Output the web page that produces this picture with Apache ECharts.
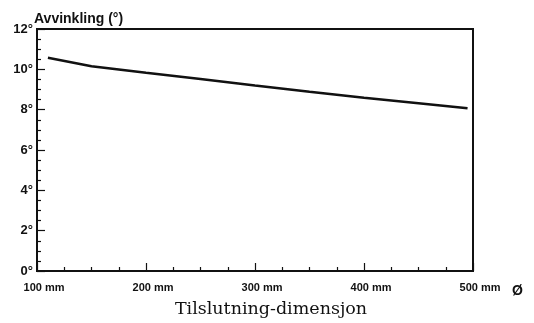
<!DOCTYPE html>
<html>
<head>
<meta charset="utf-8">
<script src="https://cdn.jsdelivr.net/npm/echarts@6/dist/echarts.min.js"></script>
<style>
  html, body { margin: 0; padding: 0; background: #fff; }
  #chart { width: 534px; height: 323px; }
</style>
</head>
<body>
<div id="chart"></div>
<script>
// Tilslutning-dimensjon (mm) og avvinkling (grader)
var dimensjon = [110, 150, 200, 250, 300, 350, 400, 450, 495];
var avvinkling = [10.57, 10.15, 9.83, 9.52, 9.2, 8.89, 8.59, 8.32, 8.07];

var chart = echarts.init(document.getElementById("chart"));
chart.setOption({
  animation: false,
  grid: {
    left: 37,
    right: 61,
    top: 29,
    bottom: 50,
    show: true,
    borderColor: "#111",
    borderWidth: 2
  },
  xAxis: {
    type: "value",
    min: 100,
    max: 500,
    interval: 100,
    name: "Tilslutning-dimensjon",
    nameLocation: "middle",
    nameGap: 29,
    nameTextStyle: {
      fontFamily: "DejaVu Serif",
      fontSize: 17.5,
      color: "#111",
      padding: [0, 0, 0, 32]
    },
    axisLine: { lineStyle: { color: "#111", width: 2 } },
    axisTick: { inside: true, length: 8, lineStyle: { color: "#111", width: 1.2 } },
    minorTick: { show: true, splitNumber: 4, length: 4, lineStyle: { color: "#111", width: 1.2 } },
    splitLine: { show: false },
    axisLabel: {
      margin: 11,
      fontFamily: "Liberation Sans",
      fontWeight: "bold",
      fontSize: 11,
      color: "#111",
      padding: [0, 0, 0, 14],
      formatter: function (v) { return v + " mm"; }
    }
  },
  yAxis: {
    type: "value",
    min: 0,
    max: 12,
    interval: 2,
    axisLine: { show: true, lineStyle: { color: "#111", width: 2 } },
    axisTick: { show: true, inside: true, length: 8, lineStyle: { color: "#111", width: 1.2 } },
    minorTick: { show: true, splitNumber: 4, length: 4, lineStyle: { color: "#111", width: 1.2 } },
    splitLine: { show: false },
    axisLabel: {
      margin: 4,
      fontFamily: "Liberation Sans",
      fontWeight: "bold",
      fontSize: 13,
      color: "#111",
      formatter: function (v) { return v + "°"; }
    }
  },
  graphic: [{
    type: "text",
    left: 34,
    top: 12,
    style: { text: "Avvinkling (°)", font: "bold 14px Liberation Sans", fill: "#111" }
  }, {
    type: "text",
    left: 512,
    top: 284,
    style: { text: "Ø", font: "bold 14px Liberation Sans", fill: "#111" }
  }],
  series: [{
    type: "line",
    showSymbol: false,
    data: dimensjon.map(function (d, i) { return [d, avvinkling[i]]; }),
    lineStyle: { color: "#111", width: 2.5 }
  }]
});
</script>
</body>
</html>
